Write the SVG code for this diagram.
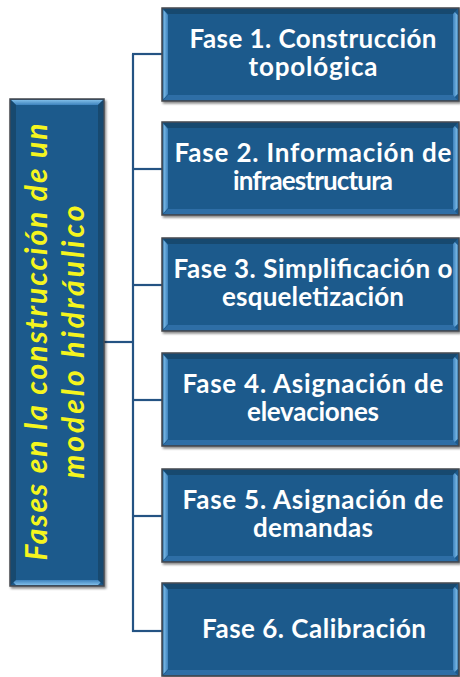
<svg xmlns="http://www.w3.org/2000/svg" width="460" height="677" viewBox="0 0 460 677">
<style>
.box{fill:#1d5a8c;stroke:#44484d;stroke-width:1.5}
.lite{fill:url(#gl)}
.lite2{fill:url(#gl2)}
.t{font-family:Lato,"Liberation Sans",sans-serif;font-weight:bold;font-size:26px;fill:#ffffff;text-anchor:middle}
.y{font-family:Lato,"Liberation Sans",sans-serif;font-weight:bold;font-style:italic;font-size:30px;fill:#f5f51e;text-anchor:middle}
.c{fill:none;stroke:#245383;stroke-width:2.2}
</style>
<defs>
<linearGradient id="gl" x1="0" y1="0" x2="1" y2="0">
<stop offset="0" stop-color="#7fbde8"/><stop offset="1" stop-color="#3d82bd"/>
</linearGradient>
<linearGradient id="gl2" x1="0" y1="0" x2="0" y2="1">
<stop offset="0" stop-color="#7fbde8"/><stop offset="1" stop-color="#3d82bd"/>
</linearGradient>
<filter id="sh" x="-5%" y="-5%" width="115%" height="115%">
<feDropShadow dx="1.5" dy="2" stdDeviation="1.2" flood-color="#000" flood-opacity="0.45"/>
</filter>
<g id="rb">
<rect class="box" x="0" y="0" width="297" height="93" filter="url(#sh)"/>
<polygon class="lite" points="1.5,2 6,7 6,86 1.5,91"/>
<polygon class="lite" points="295.5,2 291,7 291,86 295.5,91" transform="rotate(180 293.25 46.5)"/>
<polygon points="1.5,1 295.5,1 291,6 6,6" fill="#17496f"/>
<polygon points="1.5,92 295.5,92 291,87 6,87" fill="#2e6ea6"/>
</g>
</defs>

<g id="connectors">
<line class="c" x1="104" y1="342" x2="133" y2="342"/>
<line class="c" x1="133" y1="54" x2="133" y2="632"/>
<line class="c" x1="132" y1="54" x2="162" y2="54"/>
<line class="c" x1="132" y1="169" x2="162" y2="169"/>
<line class="c" x1="132" y1="285" x2="162" y2="285"/>
<line class="c" x1="132" y1="400" x2="162" y2="400"/>
<line class="c" x1="132" y1="516" x2="162" y2="516"/>
<line class="c" x1="132" y1="631" x2="162" y2="631"/>
</g>

<g id="root">
<rect class="box" x="10" y="99" width="94" height="487" filter="url(#sh)"/>
<polygon class="lite2" points="11,100 103,100 98,105 16,105"/>
<polygon class="lite2" points="11,585 103,585 98,580 16,580" transform="rotate(180 57 582.5)"/>
<polygon points="10.8,100 16,105 16,580 10.8,585" fill="#17496f"/>
<polygon points="103.2,100 98,105 98,580 103.2,585" fill="#17496f"/>
<g transform="translate(57,342) rotate(-90)">
<text class="y" x="0" y="-10" textLength="437">Fases en la construcción de un</text>
<text class="y" x="0" y="27" textLength="273">modelo hidráulico</text>
</g>
</g>

<g id="fase1">
<use href="#rb" x="162" y="8"/>
<text class="t" x="313" y="48" textLength="247">Fase 1. Construcción</text>
<text class="t" x="313" y="76" textLength="129">topológica</text>
</g>
<g id="fase2">
<use href="#rb" x="162" y="122"/>
<text class="t" x="313" y="162" textLength="277">Fase 2. Información de</text>
<text class="t" x="313" y="190" textLength="160">infraestructura</text>
</g>
<g id="fase3">
<use href="#rb" x="162" y="238"/>
<text class="t" x="313" y="278" textLength="279">Fase 3. Simplificación o</text>
<text class="t" x="313" y="306" textLength="182">esqueletización</text>
</g>
<g id="fase4">
<use href="#rb" x="162" y="353"/>
<text class="t" x="313" y="393" textLength="261">Fase 4. Asignación de</text>
<text class="t" x="313" y="421" textLength="132">elevaciones</text>
</g>
<g id="fase5">
<use href="#rb" x="162" y="469"/>
<text class="t" x="313" y="509" textLength="261">Fase 5. Asignación de</text>
<text class="t" x="313" y="537" textLength="120">demandas</text>
</g>
<g id="fase6">
<use href="#rb" x="162" y="583"/>
<text class="t" x="314" y="638" textLength="224">Fase 6. Calibración</text>
</g>
</svg>
